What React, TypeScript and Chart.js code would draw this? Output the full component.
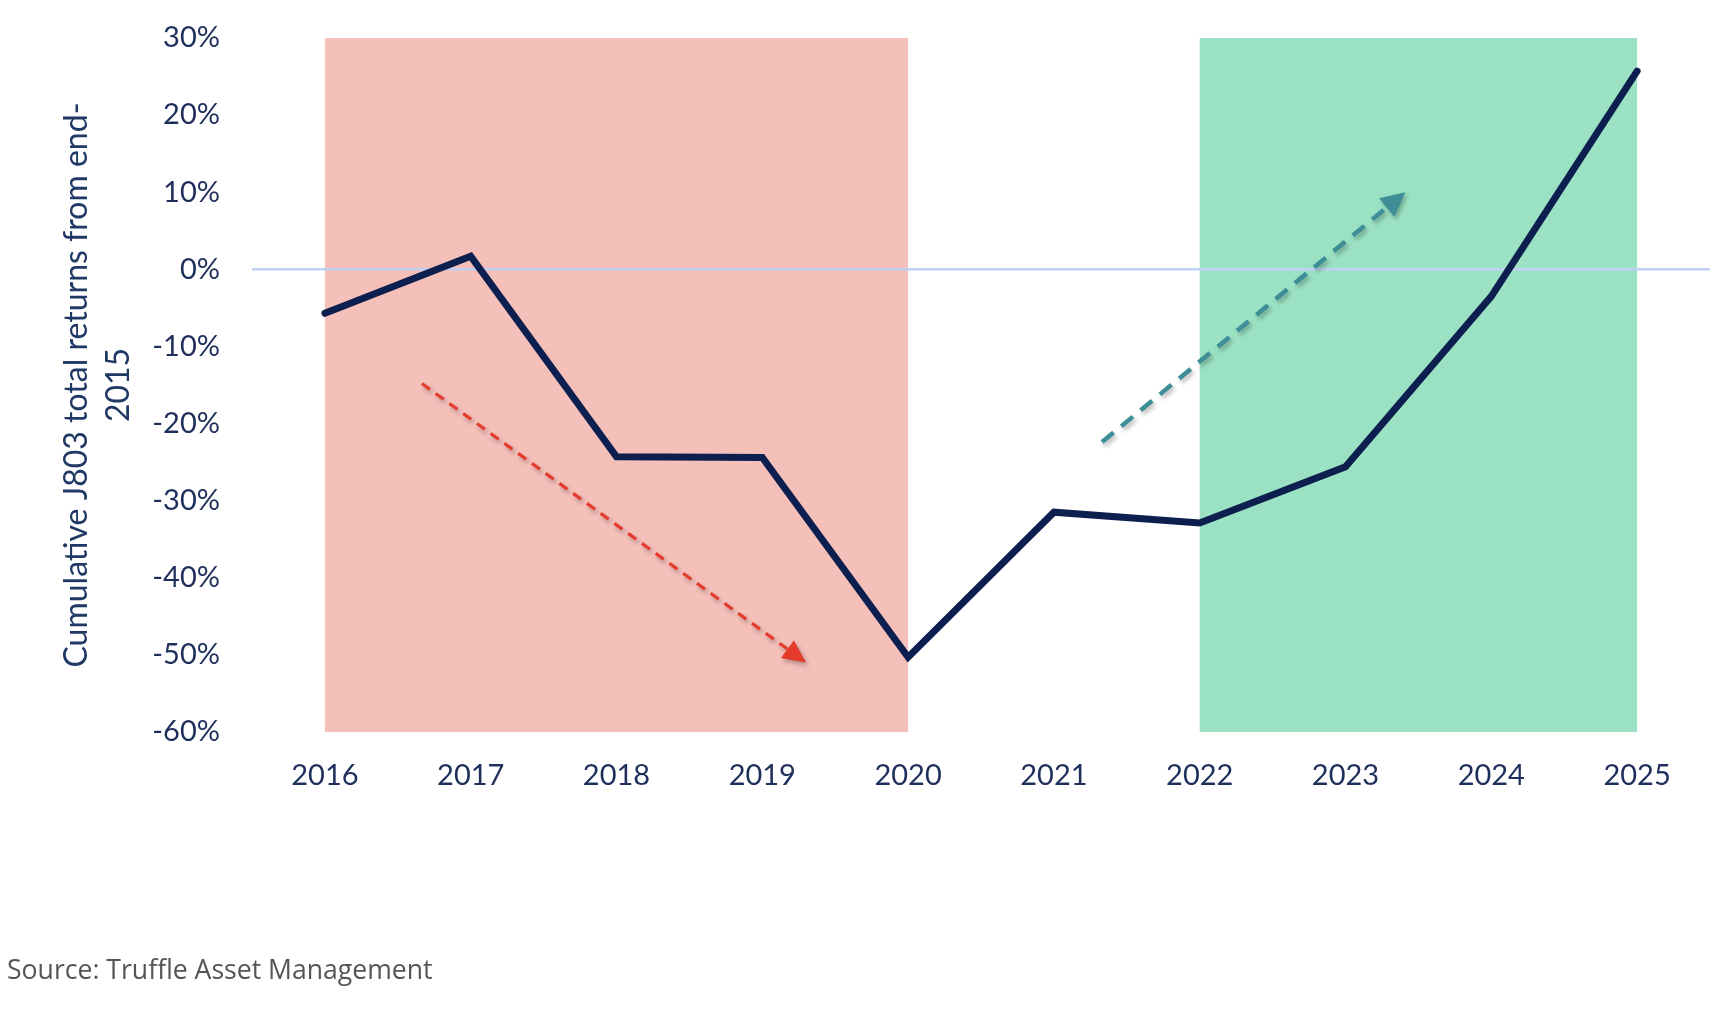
import React, { useEffect, useRef } from "react";
import { Chart, registerables } from "chart.js";

Chart.register(...registerables);

const years = ["2016", "2017", "2018", "2019", "2020", "2021", "2022", "2023", "2024", "2025"];
const cumulativeReturns = [-5.7, 1.7, -24.3, -24.4, -50.3, -31.5, -32.9, -25.6, -3.5, 25.7];
const yTicks = [30, 20, 10, 0, -10, -20, -30, -40, -50, -60];
const yTitleLines = ["Cumulative J803 total returns from end-", "2015"];
const sourceText = "Source: Truffle Asset Management";

// shaded periods, as category index ranges [start, end]
const redZone = [0, 4];
const greenZone = [6, 9];

// trend arrows in data coordinates: [categoryIndex, value]
const redArrowFrom = [0.665, -14.8];
const redArrowTo = [3.3, -51.0];
const tealArrowFrom = [5.33, -22.4];
const tealArrowTo = [7.41, 10.0];

const NAVY = "#0d1f4f";
const TEXT = "#1f2f5c";
const PINK = "#f5bfba";
const GREEN = "#9be2c4";
const RED = "#e53b2c";
const TEAL = "#3e8e97";
const ZERO = "#bfd0f2";

const zonesPlugin = {
  id: "zones",
  beforeDraw(chart: any) {
    const { ctx, scales } = chart;
    const x = scales.x;
    const y = scales.y;
    const top = y.getPixelForValue(yTicks[0]);
    const bottom = y.getPixelForValue(yTicks[yTicks.length - 1]);
    const zones: [number[], string][] = [
      [redZone, PINK],
      [greenZone, GREEN],
    ];
    ctx.save();
    for (const [z, color] of zones) {
      const x0 = x.getPixelForValue(z[0]);
      const x1 = x.getPixelForValue(z[1]);
      ctx.fillStyle = color;
      ctx.fillRect(x0, top, x1 - x0, bottom - top);
    }
    ctx.restore();
  },
};

function drawArrow(chart: any, from: number[], to: number[], color: string, width: number, dash: number[], headLen: number, headHalf: number) {
  const { ctx, scales } = chart;
  const x0 = scales.x.getPixelForValue(from[0]);
  const y0 = scales.y.getPixelForValue(from[1]);
  const x1 = scales.x.getPixelForValue(to[0]);
  const y1 = scales.y.getPixelForValue(to[1]);
  const ang = Math.atan2(y1 - y0, x1 - x0);
  const bx = x1 - Math.cos(ang) * headLen;
  const by = y1 - Math.sin(ang) * headLen;
  ctx.save();
  ctx.shadowColor = "rgba(0,0,0,0.28)";
  ctx.shadowBlur = 4;
  ctx.shadowOffsetX = 2;
  ctx.shadowOffsetY = 3;
  ctx.strokeStyle = color;
  ctx.lineWidth = width;
  ctx.setLineDash(dash);
  ctx.lineCap = "butt";
  ctx.beginPath();
  ctx.moveTo(x0, y0);
  ctx.lineTo(bx, by);
  ctx.stroke();
  ctx.setLineDash([]);
  ctx.fillStyle = color;
  ctx.beginPath();
  ctx.moveTo(x1, y1);
  ctx.lineTo(bx + Math.cos(ang + Math.PI / 2) * headHalf, by + Math.sin(ang + Math.PI / 2) * headHalf);
  ctx.lineTo(bx + Math.cos(ang - Math.PI / 2) * headHalf, by + Math.sin(ang - Math.PI / 2) * headHalf);
  ctx.closePath();
  ctx.fill();
  ctx.restore();
}

const arrowsPlugin = {
  id: "arrows",
  afterDatasetsDraw(chart: any) {
    drawArrow(chart, redArrowFrom, redArrowTo, RED, 3.2, [10, 7], 23, 11);
    drawArrow(chart, tealArrowFrom, tealArrowTo, TEAL, 4.5, [15, 10], 24, 12);
  },
};

export default function App() {
  const canvasRef = useRef<HTMLCanvasElement | null>(null);

  useEffect(() => {
    if (!canvasRef.current) return;
    const chart = new Chart(canvasRef.current, {
      type: "line",
      data: {
        labels: years,
        datasets: [
          {
            data: cumulativeReturns,
            borderColor: NAVY,
            borderWidth: 7,
            pointRadius: 0,
            pointHoverRadius: 0,
            tension: 0,
            borderCapStyle: "round",
            borderJoinStyle: "miter",
            fill: false,
          },
        ],
      },
      options: {
        animation: false,
        responsive: true,
        maintainAspectRatio: false,
        layout: { padding: { left: 0, top: 38, right: 16, bottom: 178 } },
        plugins: {
          legend: { display: false },
          tooltip: { enabled: false },
        },
        scales: {
          x: {
            type: "category",
            offset: true,
            grid: { display: false, drawTicks: false },
            border: { display: false },
            ticks: {
              color: TEXT,
              font: { family: "Lato", size: 29 },
              padding: 26,
              maxRotation: 0,
              autoSkip: false,
            },
            afterFit: (s: any) => {
              s.height = 100;
            },
          },
          y: {
            min: -60,
            max: 30,
            grid: {
              drawTicks: false,
              lineWidth: 2.5,
              color: (c: any) => (c.tick && c.tick.value === 0 ? ZERO : "rgba(0,0,0,0)"),
            },
            border: { display: false },
            afterBuildTicks: (s: any) => {
              s.ticks = yTicks.map((v) => ({ value: v }));
            },
            ticks: {
              color: TEXT,
              font: { family: "Lato", size: 29 },
              padding: 32,
              callback: (v: any) => `${v}%`,
            },
            title: {
              display: true,
              text: yTitleLines,
              color: "#1f3864",
              font: { family: "Lato", size: 32, lineHeight: 1.31 },
              padding: { top: 56, bottom: 0 },
            },
            afterFit: (s: any) => {
              s.width = 252;
              s.paddingTop = 0;
              s.paddingBottom = 0;
            },
          },
        },
      },
      plugins: [zonesPlugin, arrowsPlugin],
    });
    return () => chart.destroy();
  }, []);

  return (
    <div style={{ position: "absolute", left: 0, top: 0, width: 1726, height: 1010, background: "#fff" }}>
      <canvas ref={canvasRef} />
      <div
        style={{
          position: "absolute",
          left: 7,
          top: 954,
          fontFamily: "'Open Sans', sans-serif",
          fontSize: 26.6,
          lineHeight: "30px",
          color: "#555555",
          whiteSpace: "nowrap",
        }}
      >
        {sourceText}
      </div>
    </div>
  );
}
